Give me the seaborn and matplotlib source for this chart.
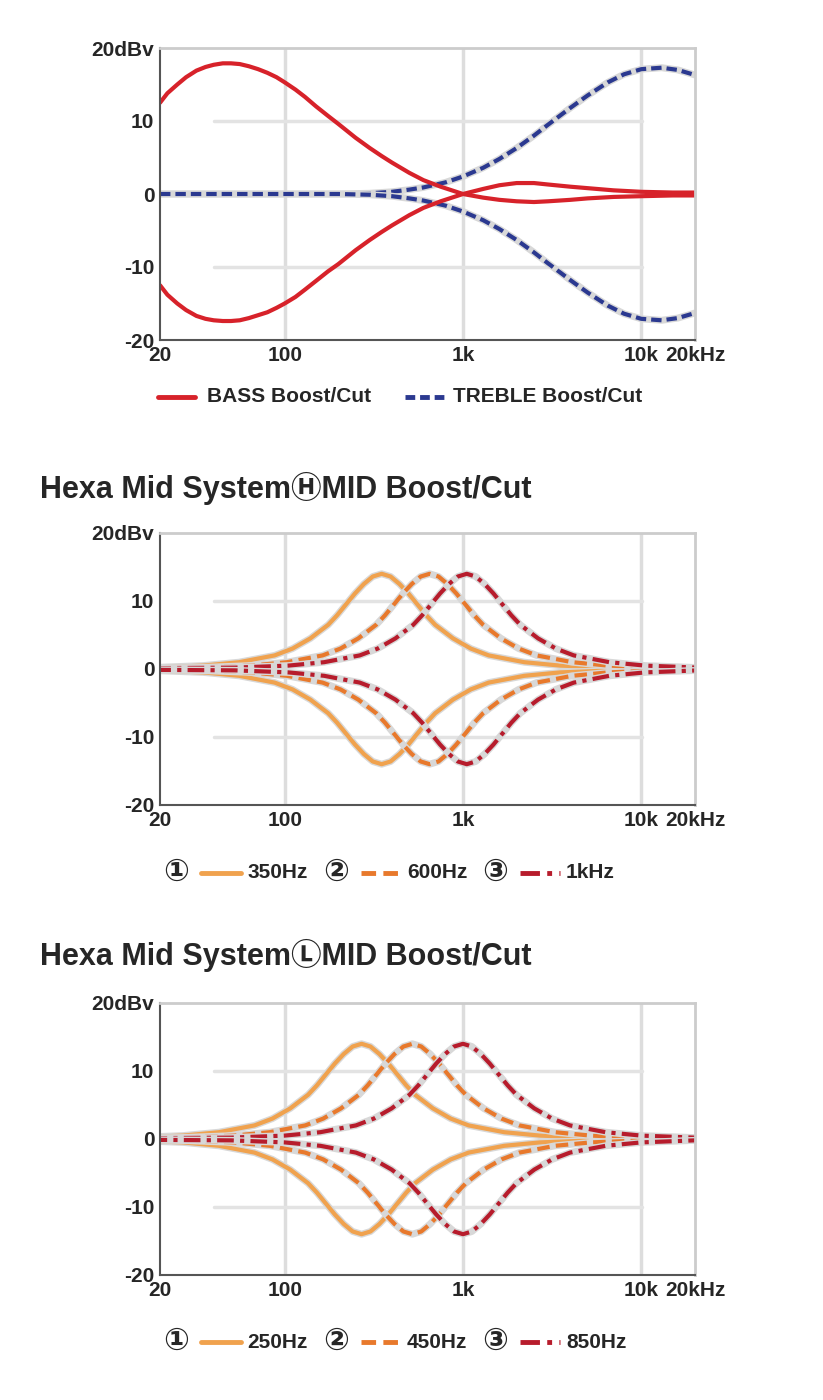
import numpy as np
import pandas as pd
import matplotlib
matplotlib.use("Agg")
import matplotlib.pyplot as plt
import seaborn as sns

sns.set_style("white")
plt.rcParams['font.family'] = ['Liberation Sans', 'DejaVu Sans', 'Noto Sans CJK JP']
plt.rcParams['font.weight'] = 'bold'

# --- data ---
bass_freq = [20, 22, 25, 28, 32, 36, 40, 45, 50, 56, 63, 71, 80, 90, 100, 115, 130, 150, 175, 200, 250, 300, 350,
             400, 500, 600, 750, 1000, 1300, 1600, 2000, 2500, 3000, 4000, 5000, 7000, 10000, 15000, 20000]
bass_boost = [12.5, 13.8, 15.0, 16.0, 16.9, 17.4, 17.7, 17.9, 17.9, 17.8, 17.5, 17.1, 16.6, 16.0, 15.3, 14.3, 13.3, 12.0, 10.7, 9.6, 7.7, 6.3, 5.2,
              4.3, 2.9, 1.9, 1.0, 0.0, 0.7, 1.2, 1.5, 1.5, 1.3, 1.0, 0.8, 0.5, 0.3, 0.2, 0.2]
bass_cut = [-12.5, -13.8, -15.0, -15.9, -16.7, -17.1, -17.3, -17.4, -17.4, -17.3, -17.0, -16.6, -16.2, -15.6, -15.0, -14.1, -13.1, -11.9, -10.6, -9.6, -7.7, -6.3, -5.2,
            -4.3, -2.9, -1.9, -1.0, 0.0, -0.5, -0.8, -1.0, -1.1, -1.0, -0.8, -0.6, -0.4, -0.3, -0.2, -0.2]
treble_freq = [20, 50, 100, 200, 300, 400, 500, 600, 800, 1000, 1300, 1600, 2000, 2500, 3000, 4000, 5000,
               6500, 8000, 10000, 13000, 16000, 20000]
treble_boost = [0.0, 0.0, 0.0, 0.0, 0.1, 0.3, 0.6, 0.9, 1.6, 2.4, 3.6, 4.8, 6.3, 8.0, 9.5, 11.8, 13.5,
                15.3, 16.4, 17.1, 17.3, 17.0, 16.3]
treble_cut = [-v for v in treble_boost]

# mid band shape: offset from centre (decades) -> dB
mid_offset = [-2.5, -1.3, -1.0, -0.8, -0.6, -0.5, -0.4, -0.3, -0.25, -0.2, -0.15, -0.1, -0.05, 0.0,
              0.05, 0.1, 0.15, 0.2, 0.25, 0.3, 0.4, 0.5, 0.6, 0.8, 1.0, 1.3, 2.5]
mid_gain = [0.0, 0.2, 0.5, 1.0, 2.0, 3.0, 4.5, 6.5, 7.9, 9.5, 11.1, 12.5, 13.6, 14.0,
            13.6, 12.5, 11.1, 9.5, 7.9, 6.5, 4.5, 3.0, 2.0, 1.0, 0.5, 0.2, 0.0]
h_centres = [350, 650, 1050]
h_labels = ["350Hz", "600Hz", "1kHz"]
l_centres = [270, 520, 1000]
l_labels = ["250Hz", "450Hz", "850Hz"]

mid_colors = ["#f0a24e", "#e8792c", "#b71c2c"]
mid_styles = ["-", (0, (3, 1.5)), (0, (4, 1.5, 1, 1.5))]

fig = plt.figure(figsize=(8.23, 14), dpi=100)
L, W = 160 / 823, 535 / 823
def make_ax(top, bot):
    ax = fig.add_axes([L, 1 - bot / 1400, W, (bot - top) / 1400])
    ax.set_xscale("log")
    ax.set_xlim(20, 20000)
    ax.set_ylim(-20, 20)
    ax.set_xticks([20, 100, 1000, 10000, 20000])
    ax.set_xticklabels(["20", "100", "1k", "10k", "20kHz"])
    ax.minorticks_off()
    ax.set_yticks([-20, -10, 0, 10, 20])
    ax.set_yticklabels(["-20", "-10", "0", "10", "20dBv"])
    ax.tick_params(length=0, labelsize=15, pad=4)
    for lab in ax.get_xticklabels() + ax.get_yticklabels():
        lab.set_fontweight("bold")
    for v in [100, 1000, 10000]:
        ax.axvline(v, color="#dddddd", lw=2.5, zorder=0)
    for v in [-10, 10]:
        ax.axhline(v, color="#e3e3e3", lw=2.5, zorder=0, xmin=0.1, xmax=0.9)
    for s in ["left", "bottom"]:
        ax.spines[s].set_color("#555555"); ax.spines[s].set_linewidth(1.5)
    for s in ["top", "right"]:
        ax.spines[s].set_color("#cccccc"); ax.spines[s].set_linewidth(2)
    return ax

def curve(ax, x, y, color, ls, halo=True):
    if halo:
        sns.lineplot(x=x, y=y, ax=ax, color="#d8d8d8", lw=5, sort=False)
    sns.lineplot(x=x, y=y, ax=ax, color=color, lw=3, linestyle=ls, sort=False)

# panel 1
ax1 = make_ax(48, 340)
curve(ax1, treble_freq, treble_boost, "#2b3990", (0, (2.5, 1.2)))
curve(ax1, treble_freq, treble_cut, "#2b3990", (0, (2.5, 1.2)))
curve(ax1, bass_freq, bass_boost, "#d7222a", "-", halo=False)
curve(ax1, bass_freq, bass_cut, "#d7222a", "-", halo=False)
fig.lines.append(plt.Line2D([158 / 823, 195 / 823], [1 - 397 / 1400] * 2, color="#d7222a", lw=3.5, transform=fig.transFigure))
fig.text(207 / 823, 1 - 397 / 1400, "BASS Boost/Cut", fontsize=15, va="center", fontweight="bold")
fig.lines.append(plt.Line2D([405 / 823, 445 / 823], [1 - 397 / 1400] * 2, color="#2b3990", lw=3.5, ls=(0, (2, 1)), transform=fig.transFigure))
fig.text(453 / 823, 1 - 397 / 1400, "TREBLE Boost/Cut", fontsize=15, va="center", fontweight="bold")

def mid_panel(top, bot, centres, labels, title, title_y, leg_y):
    ax = make_ax(top, bot)
    for c, col, ls in zip(centres, mid_colors, mid_styles):
        f = [c * 10 ** o for o in mid_offset]
        curve(ax, f, mid_gain, col, ls)
        curve(ax, f, [-g for g in mid_gain], col, ls)
    fig.text(40 / 823, 1 - title_y / 1400, title, fontsize=22, va="center", fontweight="bold")
    xs = [163, 323, 482]
    for i, (x0, lab) in enumerate(zip(xs, labels)):
        fig.text(x0 / 823, 1 - leg_y / 1400, "①②③"[i], fontsize=22, va="center", fontweight="bold")
        fig.lines.append(plt.Line2D([(x0 + 38) / 823, (x0 + 78) / 823], [1 - leg_y / 1400] * 2,
                                    color=mid_colors[i], lw=3.5, ls=mid_styles[i], transform=fig.transFigure))
        fig.text((x0 + 84) / 823, 1 - leg_y / 1400, lab, fontsize=15, va="center", fontweight="bold")

mid_panel(533, 805, h_centres, h_labels, "Hexa Mid SystemⒽMID Boost/Cut", 488, 873)
mid_panel(1003, 1275, l_centres, l_labels, "Hexa Mid SystemⓁMID Boost/Cut", 955, 1342)

fig.savefig("out.png", dpi=100)
